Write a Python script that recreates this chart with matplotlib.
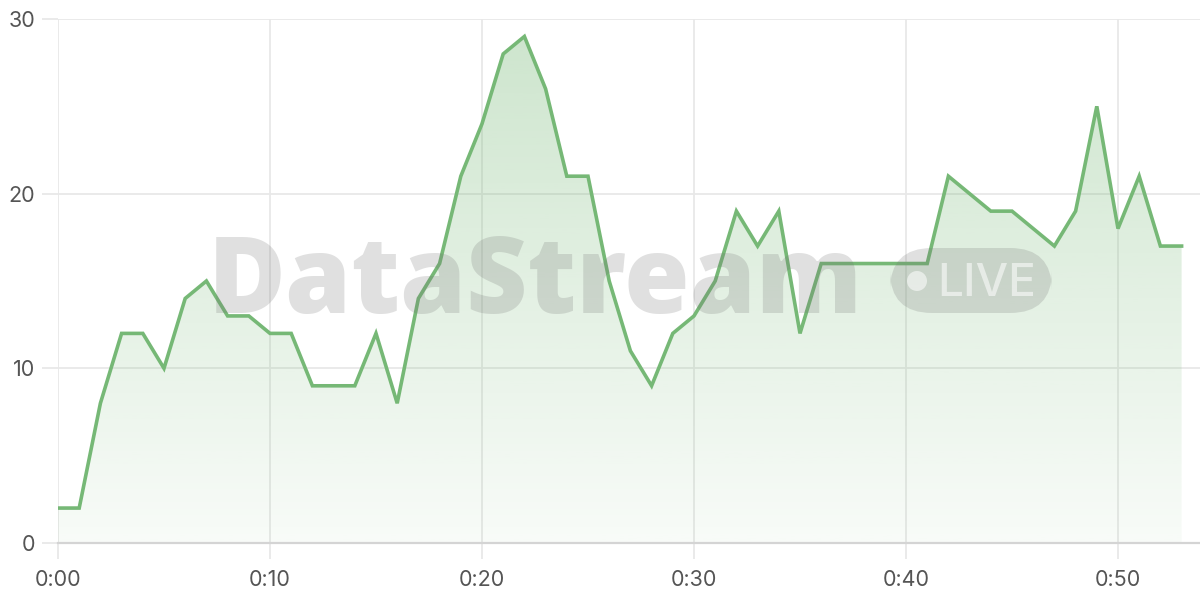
import numpy as np
import matplotlib
matplotlib.use("Agg")
import matplotlib.pyplot as plt
from matplotlib.patches import FancyBboxPatch, Polygon, Ellipse
from matplotlib.colors import to_rgb

# ---- data ----
minutes = list(range(0, 54))
values = [2, 2, 8, 12, 12, 10, 14, 15, 13, 13,
          12, 12, 9, 9, 9, 12, 8, 14, 16, 21,
          24, 28, 29, 26, 21, 21, 15, 11, 9, 12,
          13, 15, 19, 17, 19, 12, 16, 16, 16, 16,
          16, 16, 21, 20, 19, 19, 18, 17, 19, 25,
          18, 21, 17, 17]
xtick_pos = [0, 10, 20, 30, 40, 50]
xtick_labels = ["0:00", "0:10", "0:20", "0:30", "0:40", "0:50"]
ytick_pos = [0, 10, 20, 30]
ytick_labels = ["0", "10", "20", "30"]

LINE = "#76b876"
GRID = "#e8e8e8"
TXT = "#555555"

fig = plt.figure(figsize=(12, 6), dpi=100)
ax = fig.add_axes([58/1200, 57/600, 1142/1200, 524/600])
ax.set_xlim(0, 1142/21.2)
ax.set_ylim(0, 30)

x = np.array(minutes, dtype=float)
y = np.array(values, dtype=float)

# gradient fill
rgb = to_rgb(LINE)
ymax = y.max()
n = 256
grad = np.zeros((n, 1, 4))
grad[:, 0, :3] = rgb
grad[:, 0, 3] = np.linspace(0.05, 0.36, n)
verts = np.column_stack([np.r_[x[0], x, x[-1]], np.r_[0, y, 0]])
poly = Polygon(verts, closed=True, facecolor="none", edgecolor="none")
ax.add_patch(poly)
im = ax.imshow(grad, aspect="auto", origin="lower",
               extent=[x[0], x[-1], 0, ymax], zorder=2)
im.set_clip_path(poly)

ax.plot(x, y, color=LINE, lw=2.6, zorder=4, solid_joinstyle="miter")

# grid / ticks
ax.set_xticks(xtick_pos)
ax.set_xticklabels(xtick_labels)
ax.set_yticks(ytick_pos)
ax.set_yticklabels(ytick_labels)
ax.grid(True, color=GRID, lw=1.3, zorder=1)
ax.set_axisbelow(True)
for s in ["top", "right", "left"]:
    ax.spines[s].set_visible(False)
ax.spines["bottom"].set_color("#d4d4d4")
ax.spines["bottom"].set_linewidth(1.6)
ax.spines["bottom"].set_zorder(5)
ax.tick_params(axis="both", length=11.5, width=1.3, color=GRID,
               labelcolor=TXT, labelsize=15.5)
ax.tick_params(axis="x", pad=8)
ax.tick_params(axis="y", pad=5)
for lab in ax.get_xticklabels() + ax.get_yticklabels():
    lab.set_fontfamily("Inter")

# watermark
wm_col = (0.45, 0.45, 0.45, 0.22)
fig.text(535/1200, 1 - 313/600, "DataStream", fontsize=76.5, fontweight=800,
         family="Open Sans", color=wm_col, ha="center", va="baseline", zorder=3)
box = FancyBboxPatch((890/1200, 1 - 313/600), 162/1200, 65/600,
                     boxstyle="round,pad=0,rounding_size=0.035",
                     mutation_aspect=2.0,
                     transform=fig.transFigure, facecolor=wm_col,
                     edgecolor="none", zorder=3)
fig.add_artist(box)
dot = Ellipse((917/1200, 1 - 281/600), 20/1200, 20/600,
              transform=fig.transFigure,
              facecolor=(1, 1, 1, 0.55), edgecolor="none", zorder=3)
fig.add_artist(dot)
fig.text(937/1200, 1 - 296/600, "LIVE", fontsize=33, family="Inter",
         fontweight=500, color=(1, 1, 1, 0.55), ha="left", va="baseline",
         zorder=3)

fig.savefig("out.png", dpi=100, facecolor="white")
